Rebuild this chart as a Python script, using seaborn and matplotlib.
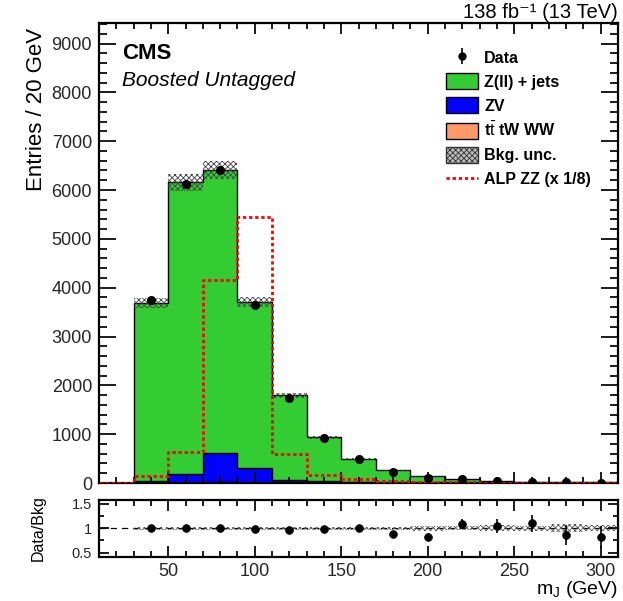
import numpy as np
import pandas as pd
import matplotlib
matplotlib.use("Agg")
import matplotlib.pyplot as plt
import seaborn as sns
from matplotlib.patches import Patch
from matplotlib.lines import Line2D
from matplotlib.ticker import MultipleLocator

# ---------------- data ----------------
bin_edges = [30, 50, 70, 90, 110, 130, 150, 170, 190, 210, 230, 250, 270, 290, 310]
bin_centers = [40, 60, 80, 100, 120, 140, 160, 180, 200, 220, 240, 260, 280, 300]

zjets = [3645, 5975, 5790, 3410, 1740, 905, 472, 254, 131, 73, 42, 24, 15, 10.5]
zv = [40, 175, 600, 290, 50, 28, 14, 7, 4, 2.5, 1.5, 1, 0.6, 0.4]
ttbar = [5, 10, 15, 10, 5, 4, 3, 2, 1, 0.8, 0.5, 0.4, 0.3, 0.2]
bkg_unc_rel = [0.028, 0.028, 0.029, 0.028, 0.028, 0.03, 0.03, 0.035, 0.05, 0.04, 0.06, 0.05, 0.08, 0.06]

data = [3740, 6130, 6400, 3650, 1740, 915, 488, 234, 111, 83, 46, 28, 13.6, 9.1]
data_err = [61, 78, 80, 60, 42, 30, 22, 15, 10.5, 8, 6, 4.5, 3.2, 2.6]

alp_edges = [10, 30, 50, 70, 90, 110, 130, 150, 170, 190, 210, 230, 250, 270, 290, 310]
alp_centers = [20, 40, 60, 80, 100, 120, 140, 160, 180, 200, 220, 240, 260, 280, 300]
alp_zz = [4, 150, 640, 4165, 5440, 600, 164, 82, 48, 27, 15, 9, 5, 3, 2]

proc_labels = ["Z(ll) + jets", "ZV", r"t$\bar{\rm t}$ tW WW"]
proc_colors = ["#33cc33", "#0000ff", "#ff9966"]

# ---------------- style ----------------
sns.set_style("ticks")
plt.rcParams["font.family"] = ["Liberation Sans", "DejaVu Sans"]
plt.rcParams["mathtext.fontset"] = "custom"
plt.rcParams["mathtext.rm"] = "Liberation Sans"
plt.rcParams["mathtext.it"] = "Liberation Sans:italic"
plt.rcParams["mathtext.bf"] = "Liberation Sans:bold"
plt.rcParams["hatch.linewidth"] = 0.6
plt.rcParams["text.color"] = "black"
plt.rcParams["axes.labelcolor"] = "black"
plt.rcParams["axes.axisbelow"] = False

W, H = 623, 601
fig = plt.figure(figsize=(W / 100, H / 100), dpi=100)
ax = fig.add_axes([99 / W, 1 - 483 / H, 519 / W, 460 / H])
rax = fig.add_axes([99 / W, 1 - 556.5 / H, 519 / W, 56.5 / H])


def root_ticks(a, x_major, x_minor, y_major, y_minor, width=1.25):
    a.tick_params(which="both", direction="in", top=True, right=True, bottom=True, left=True,
                  color="black", width=width)
    a.tick_params(axis="x", which="major", length=x_major)
    a.tick_params(axis="x", which="minor", length=x_minor)
    a.tick_params(axis="y", which="major", length=y_major)
    a.tick_params(axis="y", which="minor", length=y_minor)
    for s in a.spines.values():
        s.set_linewidth(1.6)
        s.set_color("black")


# ---------------- stacked backgrounds ----------------
df = pd.concat([
    pd.DataFrame({"mJ": bin_centers, "w": vals, "process": lab})
    for vals, lab in zip([zjets, zv, ttbar], proc_labels)
], ignore_index=True)

sns.histplot(data=df, x="mJ", weights="w", hue="process", hue_order=proc_labels,
             multiple="stack", bins=bin_edges, element="step",
             palette=dict(zip(proc_labels, proc_colors)), alpha=1,
             edgecolor="black", linewidth=1.0, legend=False, ax=ax)

stack = np.array(zjets) + np.array(zv) + np.array(ttbar)
unc = stack * np.array(bkg_unc_rel)
edges = np.array(bin_edges)
ax.fill_between(edges, np.append(stack - unc, (stack - unc)[-1]),
                np.append(stack + unc, (stack + unc)[-1]), step="post",
                facecolor="none", edgecolor="#444444", hatch="xxxxxx", linewidth=0, zorder=3)

# ---------------- signal ----------------
sns.histplot(x=alp_centers, weights=alp_zz, bins=alp_edges, element="step", fill=False,
             color="#ff0000", linewidth=2.0, linestyle=(0, (1.2, 1.0)), ax=ax, zorder=4)

# ---------------- data ----------------
ax.errorbar(bin_centers, data, yerr=data_err, fmt="o", color="black", markersize=5.5,
            elinewidth=1.2, capsize=0, zorder=5)

ax.set_xlim(10, 310)
ax.set_ylim(0, 9420)
ax.set_xlabel("")
ax.set_ylabel("Entries / 20 GeV", fontsize=16, loc="top")
ax.yaxis.set_label_coords(-0.100, 0.989)
ax.xaxis.set_major_locator(MultipleLocator(50))
ax.xaxis.set_minor_locator(MultipleLocator(10))
ax.yaxis.set_major_locator(MultipleLocator(1000))
ax.yaxis.set_minor_locator(MultipleLocator(200))
root_ticks(ax, 8, 4.3, 12.2, 5.8)
ax.tick_params(axis="y", labelsize=13, pad=5)
ax.tick_params(axis="x", labelbottom=False)

ax.text(0.045, 0.957, "CMS", transform=ax.transAxes, fontsize=16, fontweight="bold", va="top")
ax.text(0.045, 0.895, "Boosted Untagged", transform=ax.transAxes, fontsize=15, style="italic", va="top")
fig.text(618 / W, 1 - 12 / H, "138 fb\u207b\u00b9 (13 TeV)", ha="right", va="center", fontsize=14.5)

# ---------------- legend ----------------
h_data = ax.errorbar([], [], yerr=[], fmt="o", color="black", markersize=5, elinewidth=1.2, capsize=0)
handles = [h_data]
for lab, col in zip(proc_labels, proc_colors):
    handles.append(Patch(facecolor=col, edgecolor="black", linewidth=1.0))
handles.append(Patch(facecolor="#bbbbbb", edgecolor="#333333", hatch="xxxxxx", linewidth=1.0))
handles.append(Line2D([], [], color="#ff0000", linewidth=2.0, linestyle=(0, (1.2, 1.0))))
labels = ["Data"] + proc_labels + ["Bkg. unc.", "ALP ZZ (x 1/8)"]
leg = ax.legend(handles, labels, loc="upper left", bbox_to_anchor=(0.653, 0.960),
                frameon=False, borderpad=0, handlelength=2.0, handleheight=1.15,
                labelspacing=0.48, handletextpad=0.4, prop={"weight": "bold", "size": 11.5})

# ---------------- ratio panel ----------------
ratio = np.array(data) / stack
ratio_err = np.array(data_err) / stack
rel = np.array(bkg_unc_rel)
rax.axhline(1.0, color="black", linestyle=(0, (5, 4)), linewidth=0.9, zorder=1)
rax.fill_between(edges, np.append(1 - rel, 1 - rel[-1]), np.append(1 + rel, 1 + rel[-1]),
                 step="post", facecolor="none", edgecolor="#555555", hatch="xxxxxx",
                 linewidth=0, zorder=2)
sns.scatterplot(x=bin_centers, y=ratio, color="black", s=32, edgecolor="black", ax=rax, zorder=4)
rax.errorbar(bin_centers, ratio, yerr=ratio_err, fmt="none", ecolor="black",
             elinewidth=1.2, capsize=0, zorder=3)
rax.set_xlim(10, 310)
rax.set_ylim(0.42, 1.58)
rax.set_yticks([0.5, 1.0, 1.5])
rax.set_yticklabels(["0.5", "1", "1.5"])
rax.yaxis.set_minor_locator(MultipleLocator(0.25))
rax.xaxis.set_major_locator(MultipleLocator(50))
rax.xaxis.set_minor_locator(MultipleLocator(10))
root_ticks(rax, 8, 4.3, 7.2, 3.6)
rax.tick_params(axis="y", labelsize=10.5, pad=5)
rax.tick_params(axis="x", labelsize=13, pad=5)
rax.set_ylabel("Data/Bkg", fontsize=11.5)
rax.yaxis.set_label_coords(-0.102, 0.5)
rax.set_xlabel(r"m$_{\rm J}$ (GeV)", fontsize=14, loc="right", labelpad=-1)

fig.savefig("out.png", dpi=100)
